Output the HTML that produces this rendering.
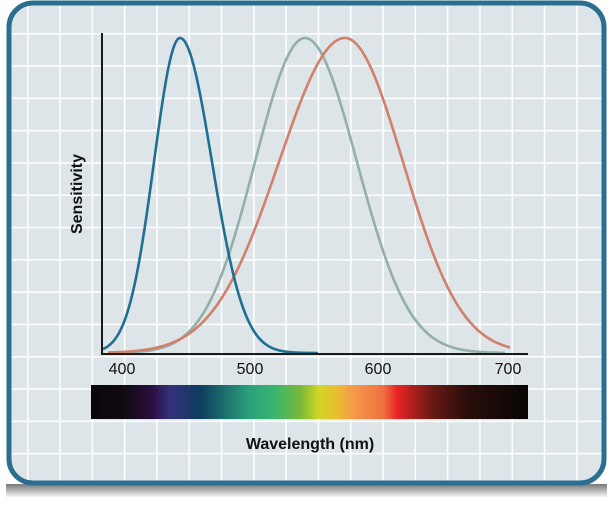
<!DOCTYPE html>
<html><head><style>
body{margin:0;width:613px;height:503px;background:#fff;overflow:hidden;font-family:"Liberation Sans",sans-serif}
</style></head><body>
<svg width="613" height="503" viewBox="0 0 613 503" xmlns="http://www.w3.org/2000/svg">
<defs>
<pattern id="g" x="27" y="33" width="32.3" height="32.3" patternUnits="userSpaceOnUse">
<path d="M0 0H32.3M0 0V32.3" stroke="#fff" stroke-width="3" fill="none"/>
</pattern>
<linearGradient id="sp" x1="0" x2="1">
<stop offset="0" stop-color="#080608"/>
<stop offset="0.08" stop-color="#120a14"/>
<stop offset="0.14" stop-color="#2a0e40"/>
<stop offset="0.18" stop-color="#35307a"/>
<stop offset="0.25" stop-color="#0d3d5e"/>
<stop offset="0.36" stop-color="#2aa07a"/>
<stop offset="0.42" stop-color="#3ab570"/>
<stop offset="0.48" stop-color="#7ab83a"/>
<stop offset="0.52" stop-color="#d0d628"/>
<stop offset="0.56" stop-color="#e8c030"/>
<stop offset="0.6" stop-color="#f59a4a"/>
<stop offset="0.67" stop-color="#f07040"/>
<stop offset="0.7" stop-color="#e82525"/>
<stop offset="0.78" stop-color="#6a1a14"/>
<stop offset="0.86" stop-color="#2a0d0a"/>
<stop offset="1" stop-color="#080606"/>
</linearGradient>
<linearGradient id="sh" x1="0" y1="0" x2="0" y2="1">
<stop offset="0" stop-color="#777"/><stop offset="1" stop-color="#fff"/>
</linearGradient>
</defs>
<rect x="6" y="484" width="601" height="14" fill="url(#sh)"/>
<rect x="9" y="3" width="595" height="480" rx="24" fill="#dde5e9"/>
<rect x="9" y="3" width="595" height="480" rx="24" fill="url(#g)"/>
<rect x="9" y="3" width="595" height="480" rx="24" fill="none" stroke="#2a6f8f" stroke-width="5"/>
<g id="curves" fill="none" stroke-width="2.6"></g>
<path d="M102 33V354H528" stroke="#1a1a1a" stroke-width="2" fill="none"/>
<g font-size="16" fill="#111" text-anchor="middle">
<text x="122" y="374">400</text><text x="250" y="374">500</text>
<text x="378" y="374">600</text><text x="508" y="374">700</text>
</g>
<rect x="91" y="385" width="437" height="34" fill="url(#sp)"/>
<text x="310" y="449" font-size="16" font-weight="bold" text-anchor="middle" fill="#111">Wavelength (nm)</text>
<text transform="translate(82,194) rotate(-90)" font-size="16" font-weight="bold" text-anchor="middle" fill="#111">Sensitivity</text>
</svg>
<script>
function c(pk,sl,sr,x0,x1,col){var d="";for(var x=x0;x<=x1;x+=1){var dx=x-pk,s=dx<0?sl:sr;var v=Math.exp(-dx*dx/(2*s*s));var y=353-315*v;d+=(x==x0?"M":"L")+x+" "+y.toFixed(1);}
var p=document.createElementNS("http://www.w3.org/2000/svg","path");p.setAttribute("d",d);p.setAttribute("stroke",col);document.getElementById("curves").appendChild(p);}
c(305,50,52,108,505,"#93b0a6");
c(345,66,58,108,510,"#d0806c");
c(180,26,32,103,318,"#1f6f93");
</script>
</body></html>
